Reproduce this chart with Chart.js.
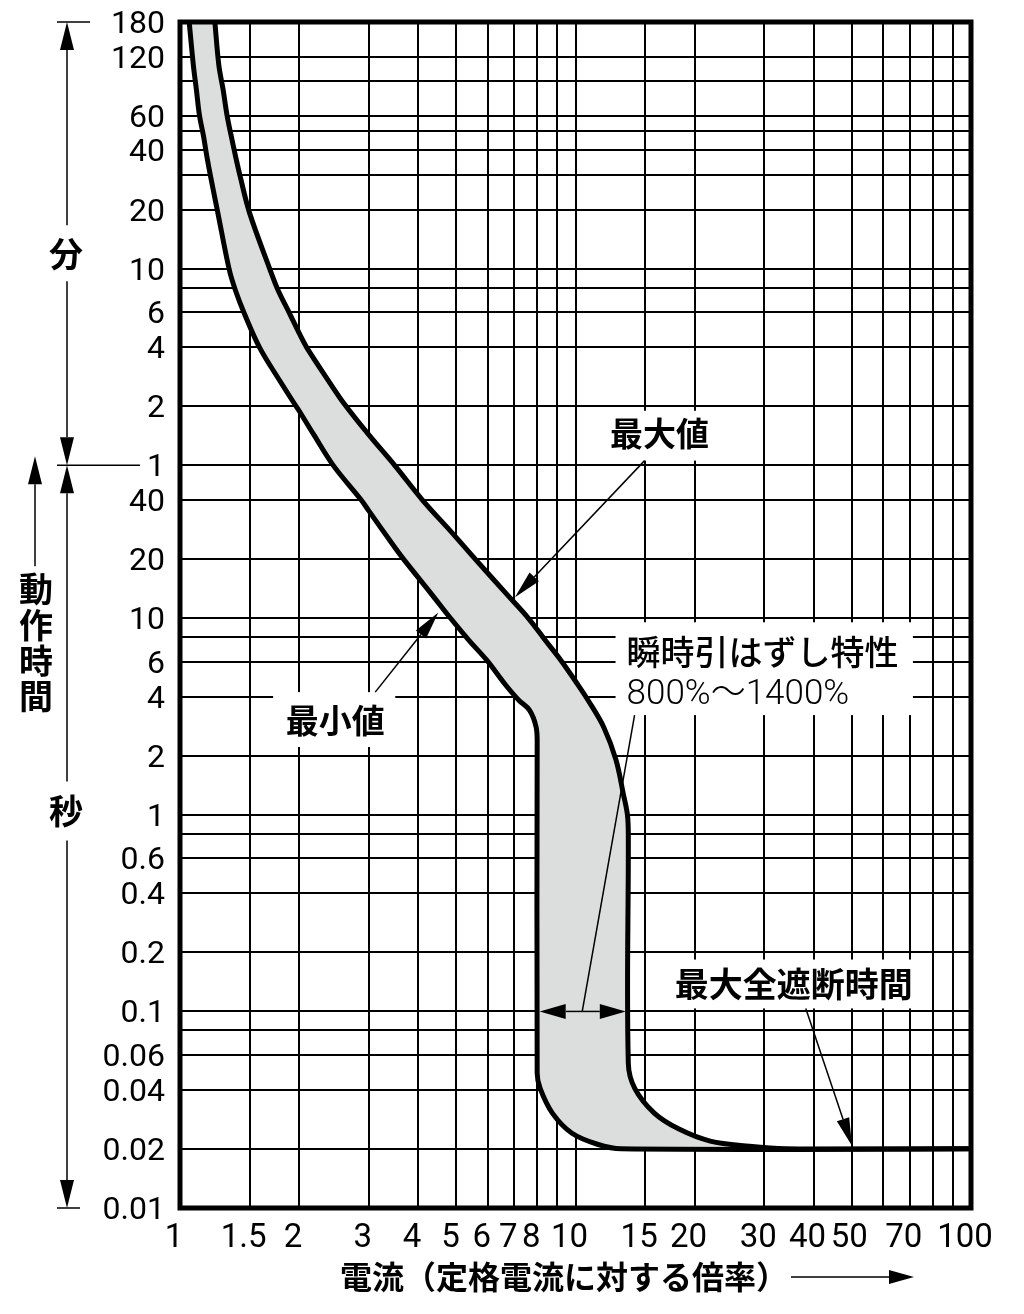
<!DOCTYPE html>
<html lang="ja">
<head>
<meta charset="utf-8">
<title>動作時間特性</title>
<script src="https://cdn.jsdelivr.net/npm/chart.js@4.4.1/dist/chart.umd.min.js"></script>
<style>
  html, body { margin: 0; padding: 0; background: #fff; }
  #chart { display: block; }
</style>
</head>
<body>
<canvas id="chart" width="1024" height="1314"></canvas>
<script>
// 電流 (定格電流に対する倍率) と動作時間 [秒]
const minCurrent = [1.055, 1.081, 1.100, 1.120, 1.147, 1.168, 1.196, 1.247, 1.331, 1.380, 1.456, 1.591, 1.788, 1.947, 2.0, 2.179, 2.443, 2.866, 3.0, 3.494, 3.696, 4.335, 4.832, 5.378, 5.965, 6.636, 7.18, 7.65, 7.95, 8.0, 8.0, 8.14, 8.74, 9.80, 11.36, 13.05, 100];
const minTime = [10800, 6490, 4902, 3618, 2830, 2266, 1753, 1151, 598, 468, 353, 237.5, 161.5, 123.4, 113.7, 85.9, 59.8, 40.2, 35.3, 22.9, 19.7, 13.2, 10.0, 7.73, 6.12, 4.62, 3.84, 3.41, 2.80, 2.29, 0.0485, 0.0406, 0.0304, 0.0240, 0.0211, 0.02, 0.02];
const maxCurrent = [1.225, 1.254, 1.285, 1.315, 1.348, 1.380, 1.421, 1.5, 1.687, 1.769, 1.896, 2.012, 2.094, 2.374, 2.601, 3.0, 3.494, 4.093, 4.915, 5.614, 6.716, 7.603, 8.386, 9.18, 10.12, 10.75, 11.78, 12.66, 13.21, 13.53, 13.6, 13.6, 14.12, 15.82, 18.27, 21.91, 27.54, 33.96, 100];
const maxTime = [10800, 6490, 4902, 3618, 2830, 2266, 1753, 1151, 598, 468, 353, 276.4, 237.5, 161.5, 123.4, 85.9, 59.8, 40.2, 26.7, 19.7, 13.2, 10.0, 7.73, 6.12, 4.62, 3.84, 2.80, 1.90, 1.278, 1.0, 0.792, 0.0545, 0.0406, 0.0304, 0.0252, 0.0219, 0.0206, 0.02, 0.02];

// 方眼と目盛
const xGridValues = [1, 1.5, 2, 3, 4, 5, 6, 7, 8, 9, 10, 15, 20, 30, 40, 50, 60, 70, 80, 90, 100];
const xTickLabels = ['1', '1.5', '2', '3', '4', '5', '6', '7', '8', '', '10', '15', '20', '30', '40', '\u200950', '', '70', '', '', '100'];
const yGridSeconds = [0.01, 0.02, 0.04, 0.06, 0.08, 0.1, 0.2, 0.4, 0.6, 0.8, 1, 2, 4, 6, 8, 10, 20, 40, 60, 120, 240, 360, 480, 600, 1200, 1800, 2400, 3000, 3600, 5400, 7200, 10800];
const yTickLabels = ['0.01', '0.02', '0.04', '0.06', '', '0.1', '0.2', '0.4', '0.6', '', '1', '2', '4', '6', '', '10', '20', '40', '1', '2', '4', '6', '', '10', '20', '', '40', '', '60', '', '120', '180'];

const NUM_FONT = "Roboto, 'Liberation Sans', sans-serif";
const JP_FONT = "'Noto Sans CJK JP', sans-serif";

// 元図のピクセル位置 -> 軸の値 -> canvas 座標
function rx(chart, px) {
	return chart.scales.x.getPixelForValue(Math.pow(10, (px - 180) / 395));
}
function ry(chart, py) {
	return chart.scales.y.getPixelForValue(Math.pow(10, (1005 - py) / 197 - 1));
}

function arrow(ctx, x1, y1, x2, y2, len, half) {
	let a = Math.atan2(y2 - y1, x2 - x1);
	let bx = x2 - len * Math.cos(a);
	let by = y2 - len * Math.sin(a);
	ctx.beginPath();
	ctx.moveTo(x1, y1);
	ctx.lineTo(bx, by);
	ctx.stroke();
	ctx.beginPath();
	ctx.moveTo(x2, y2);
	ctx.lineTo(bx + half * Math.sin(a), by - half * Math.cos(a));
	ctx.lineTo(bx - half * Math.sin(a), by + half * Math.cos(a));
	ctx.closePath();
	ctx.fill();
}

function line(ctx, x1, y1, x2, y2) {
	ctx.beginPath();
	ctx.moveTo(x1, y1);
	ctx.lineTo(x2, y2);
	ctx.stroke();
}

const annotations = {
	id: 'annotations',
	beforeDatasetsDraw(chart) {
		let ctx = chart.ctx;
		ctx.save();
		ctx.fillStyle = '#fff';
		// 文字の下の方眼を消す
		[[600, 403, 715, 453], [273, 685, 395, 740], [615, 615, 912, 708], [667, 953, 918, 1002]].forEach(b => {
			let x1 = rx(chart, b[0]), y1 = ry(chart, b[1]);
			ctx.fillRect(x1, y1, rx(chart, b[2]) - x1, ry(chart, b[3]) - y1);
		});
		ctx.restore();
	},
	afterDatasetsDraw(chart) {
		let ctx = chart.ctx;
		let a = chart.chartArea;
		ctx.save();
		ctx.strokeStyle = '#000';
		ctx.lineWidth = 5;
		ctx.strokeRect(a.left, a.top, a.right - a.left, a.bottom - a.top);
		ctx.restore();
	},
	afterDraw(chart) {
		let ctx = chart.ctx;
		let x = chart.scales.x, y = chart.scales.y;
		ctx.save();
		ctx.fillStyle = '#000';
		ctx.strokeStyle = '#000';
		ctx.lineWidth = 1.5;
		ctx.textBaseline = 'middle';

		// 左側: 分 / 秒 / 動作時間
		let top = y.getPixelForValue(10800);
		let mid = y.getPixelForValue(60);
		let bot = y.getPixelForValue(0.01);
		line(ctx, 57, top, 90, top);
		line(ctx, 57, mid, 140, mid);
		line(ctx, 57, bot, 80, bot);
		let fun = top + (mid - top) * 0.524;
		let byo = mid + (bot - mid) * 0.466;
		arrow(ctx, 67, fun - 29, 67, top, 28, 7);
		arrow(ctx, 67, fun + 27, 67, mid, 28, 7);
		arrow(ctx, 67, byo - 30, 67, mid, 28, 7);
		arrow(ctx, 67, byo + 29, 67, bot, 28, 7);
		arrow(ctx, 35, mid + 101, 35, mid - 9, 28, 7);
		ctx.textAlign = 'center';
		ctx.font = 'bold 34px ' + JP_FONT;
		ctx.fillText('分', 66, fun);
		ctx.fillText('秒', 66, byo);
		['動', '作', '時', '間'].forEach((c, i) => {
			ctx.fillText(c, 36, mid + 124 + i * 35.7);
		});

		// 最大値 / 最小値
		ctx.font = 'bold 33px ' + JP_FONT;
		ctx.fillText('最大値', rx(chart, 659), ry(chart, 426));
		arrow(ctx, rx(chart, 644), ry(chart, 453), x.getPixelForValue(7.03), y.getPixelForValue(12.8), 28, 6.5);
		ctx.fillText('最小値', rx(chart, 335), ry(chart, 713));
		arrow(ctx, rx(chart, 375), ry(chart, 685), x.getPixelForValue(4.5), y.getPixelForValue(10.7), 28, 6.5);

		// 瞬時引はずし特性
		ctx.textAlign = 'left';
		ctx.font = '500 34px ' + JP_FONT;
		ctx.fillText('瞬時引はずし特性', rx(chart, 626), ry(chart, 645));
		ctx.font = '300 35px ' + NUM_FONT + ', ' + JP_FONT;
		ctx.fillText('800%～1400%', rx(chart, 626), ry(chart, 688));
		let yb = y.getPixelForValue(0.1);
		let xc = x.getPixelForValue(10.4);
		line(ctx, rx(chart, 634), ry(chart, 708), xc, yb);
		arrow(ctx, xc, yb, x.getPixelForValue(8) + 2.5, yb, 26, 7.5);
		arrow(ctx, xc, yb, x.getPixelForValue(13.6) - 2.5, yb, 26, 7.5);

		// 最大全遮断時間
		ctx.textAlign = 'center';
		ctx.font = 'bold 34px ' + JP_FONT;
		ctx.fillText('最大全遮断時間', rx(chart, 793), ry(chart, 978));
		arrow(ctx, rx(chart, 805), ry(chart, 1002), x.getPixelForValue(50), y.getPixelForValue(0.02) - 3, 28, 6.5);

		// 横軸の名前
		ctx.textAlign = 'left';
		ctx.font = 'bold 32px ' + JP_FONT;
		let title = '電流（定格電流に対する倍率）';
		ctx.fillText(title, 340, 1277);
		let w = ctx.measureText(title).width;
		arrow(ctx, 340 + w + 3, 1277, 914, 1277, 25, 7);
		ctx.restore();
	}
};

const chart = new Chart(document.getElementById('chart'), {
	type: 'line',
	data: {
		datasets: [{
			label: '最小値',
			data: minCurrent.map((c, i) => ({x: c, y: minTime[i]})),
			borderColor: '#000',
			borderWidth: 5,
			backgroundColor: '#dcdedd',
			fill: '+1',
			tension: 0.35,
			pointRadius: 0
		}, {
			label: '最大値',
			data: maxCurrent.map((c, i) => ({x: c, y: maxTime[i]})),
			borderColor: '#000',
			borderWidth: 5,
			fill: false,
			tension: 0.35,
			pointRadius: 0
		}]
	},
	options: {
		responsive: false,
		animation: false,
		devicePixelRatio: 1,
		indexAxis: 'y',
		layout: {
			padding: {top: 22, right: 53, left: 0, bottom: 0}
		},
		plugins: {
			legend: {display: false},
			tooltip: {enabled: false},
			filler: {drawTime: 'beforeDatasetsDraw'}
		},
		scales: {
			x: {
				type: 'logarithmic',
				min: 1,
				max: 100,
				afterBuildTicks: s => { s.ticks = xGridValues.map(v => ({value: v})); },
				afterFit: s => {
					s.height = 106;
					s.paddingLeft = 0;
					s.paddingRight = 0;
				},
				grid: {color: '#000', lineWidth: 2, drawTicks: false},
				border: {display: false},
				ticks: {
					autoSkip: false,
					maxRotation: 0,
					padding: 11,
					labelOffset: -6,
					color: '#000',
					font: {family: NUM_FONT, size: 33},
					callback: (v, i) => xTickLabels[i]
				}
			},
			y: {
				type: 'logarithmic',
				min: 0.01,
				max: 10800,
				afterBuildTicks: s => { s.ticks = yGridSeconds.map(v => ({value: v})); },
				afterFit: s => {
					s.width = 180;
					s.paddingTop = 0;
					s.paddingBottom = 0;
				},
				grid: {color: '#000', lineWidth: 2, drawTicks: false},
				border: {display: false},
				ticks: {
					autoSkip: false,
					padding: 15,
					labelOffset: 3,
					color: '#000',
					font: {family: NUM_FONT, size: 32},
					callback: (v, i) => yTickLabels[i]
				}
			}
		}
	},
	plugins: [annotations]
});
</script>
</body>
</html>
